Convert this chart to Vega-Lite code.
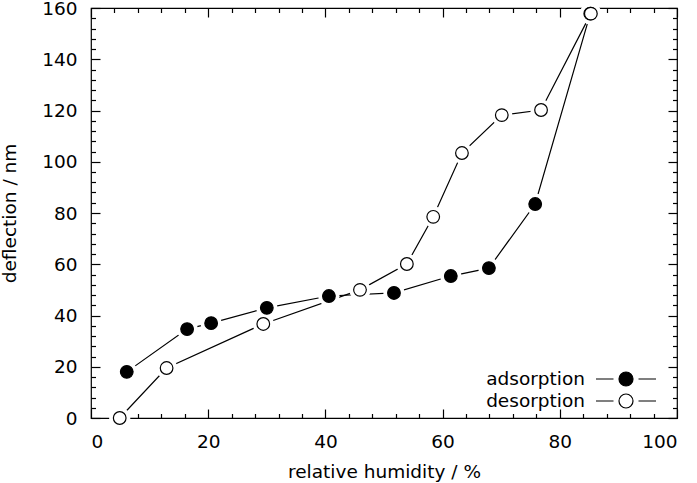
{
  "$schema": "https://vega.github.io/schema/vega-lite/v6.json",
  "width": 586,
  "height": 410,
  "autosize": {"type": "none"},
  "padding": {"left": 91, "top": 8, "right": 20, "bottom": 65},
  "data": {"values": [
    {"series": "adsorption", "rh": 6.1, "defl": 18.0},
    {"series": "adsorption", "rh": 16.4, "defl": 34.7},
    {"series": "adsorption", "rh": 20.5, "defl": 37.0},
    {"series": "adsorption", "rh": 30.0, "defl": 43.0},
    {"series": "adsorption", "rh": 40.6, "defl": 47.6},
    {"series": "adsorption", "rh": 51.7, "defl": 48.8},
    {"series": "adsorption", "rh": 61.4, "defl": 55.4},
    {"series": "adsorption", "rh": 67.9, "defl": 58.5},
    {"series": "adsorption", "rh": 75.8, "defl": 83.5},
    {"series": "adsorption", "rh": 85.2, "defl": 157.8},
    {"series": "desorption", "rh": 4.9, "defl": 0.0},
    {"series": "desorption", "rh": 12.9, "defl": 19.5},
    {"series": "desorption", "rh": 29.4, "defl": 36.7},
    {"series": "desorption", "rh": 45.9, "defl": 50.0},
    {"series": "desorption", "rh": 53.9, "defl": 60.1},
    {"series": "desorption", "rh": 58.4, "defl": 78.5},
    {"series": "desorption", "rh": 63.3, "defl": 103.4},
    {"series": "desorption", "rh": 70.1, "defl": 118.2},
    {"series": "desorption", "rh": 76.8, "defl": 120.2},
    {"series": "desorption", "rh": 85.3, "defl": 157.8}
  ]},
  "resolve": {"axis": {"x": "independent", "y": "independent"}},
  "layer": [
    {
      "mark": {"type": "line", "color": "black", "strokeWidth": 1.2},
      "encoding": {
        "x": {"field": "rh", "type": "quantitative", "scale": {"domain": [0, 100], "nice": false},
              "axis": {"orient": "bottom", "values": [0, 20, 40, 60, 80, 100], "tickSize": -9, "title": "relative humidity / %", "labelPadding": 23.5, "titlePadding": 11}},
        "y": {"field": "defl", "type": "quantitative", "scale": {"domain": [0, 160], "nice": false},
              "axis": {"orient": "left", "values": [0, 20, 40, 60, 80, 100, 120, 140, 160], "tickSize": -9, "title": "deflection / nm", "labelPadding": 23, "titlePadding": 22}},
        "detail": {"field": "series"}
      }
    },
    {
      "mark": {"type": "point", "shape": "circle", "filled": true, "color": "white", "opacity": 1, "size": 450},
      "encoding": {
        "x": {"field": "rh", "type": "quantitative",
              "axis": {"orient": "bottom", "values": [4, 8, 12, 16, 24, 28, 32, 36, 44, 48, 52, 56, 64, 68, 72, 76, 84, 88, 92, 96], "tickSize": -4.5, "labels": false, "domain": false, "title": null}},
        "y": {"field": "defl", "type": "quantitative",
              "axis": {"orient": "left", "values": [4, 8, 12, 16, 24, 28, 32, 36, 44, 48, 52, 56, 64, 68, 72, 76, 84, 88, 92, 96, 104, 108, 112, 116, 124, 128, 132, 136, 144, 148, 152, 156], "tickSize": -4.5, "labels": false, "domain": false, "title": null}}
      }
    },
    {
      "transform": [{"filter": "datum.series === 'adsorption'"}],
      "mark": {"type": "point", "shape": "circle", "filled": true, "stroke": "black", "strokeWidth": 1.2, "opacity": 1, "size": 160},
      "encoding": {
        "x": {"field": "rh", "type": "quantitative",
              "axis": {"orient": "top", "values": [0, 20, 40, 60, 80, 100], "tickSize": -9, "labels": false, "domain": false, "title": null}},
        "y": {"field": "defl", "type": "quantitative",
              "axis": {"orient": "right", "values": [0, 20, 40, 60, 80, 100, 120, 140, 160], "tickSize": -9, "labels": false, "domain": false, "title": null}},
        "fill": {"field": "series", "type": "nominal", "scale": {"domain": ["adsorption", "desorption"], "range": ["black", "white"]}}
      }
    },
    {
      "transform": [{"filter": "datum.series === 'desorption'"}],
      "mark": {"type": "point", "shape": "circle", "filled": true, "stroke": "black", "strokeWidth": 1.2, "opacity": 1, "size": 160},
      "encoding": {
        "x": {"field": "rh", "type": "quantitative",
              "axis": {"orient": "top", "values": [4, 8, 12, 16, 24, 28, 32, 36, 44, 48, 52, 56, 64, 68, 72, 76, 84, 88, 92, 96], "tickSize": -4.5, "labels": false, "domain": false, "title": null}},
        "y": {"field": "defl", "type": "quantitative",
              "axis": {"orient": "right", "values": [4, 8, 12, 16, 24, 28, 32, 36, 44, 48, 52, 56, 64, 68, 72, 76, 84, 88, 92, 96, 104, 108, 112, 116, 124, 128, 132, 136, 144, 148, 152, 156], "tickSize": -4.5, "labels": false, "domain": false, "title": null}},
        "fill": {"field": "series", "type": "nominal"}
      }
    }
  ],
  "config": {
    "font": "DejaVu Sans",
    "view": {"stroke": "black", "strokeWidth": 1.2},
    "axis": {
      "grid": false,
      "domain": false,
      "tickColor": "black",
      "tickWidth": 1.2,
      "labelFont": "DejaVu Sans",
      "labelFontSize": 18.5,
      "labelColor": "black",
      "titleFont": "DejaVu Sans",
      "titleFontSize": 18.5,
      "titleFontWeight": "normal",
      "titleColor": "black"
    },
    "legend": {
      "orient": "bottom-right",
      "title": null,
      "symbolType": "M-3,0H-1.25M1.25,0H3M0.7,0A0.7,0.7,0,1,1,-0.7,0A0.7,0.7,0,1,1,0.7,0ZM4.1,0",
      "symbolSize": 400,
      "symbolStrokeColor": "black",
      "symbolStrokeWidth": 1.2,
      "labelAlign": "right",
      "labelOffset": -52,
      "labelFont": "DejaVu Sans",
      "labelFontSize": 18.5,
      "labelColor": "black",
      "rowPadding": 1,
      "padding": 0,
      "offset": 7
    }
  }
}
